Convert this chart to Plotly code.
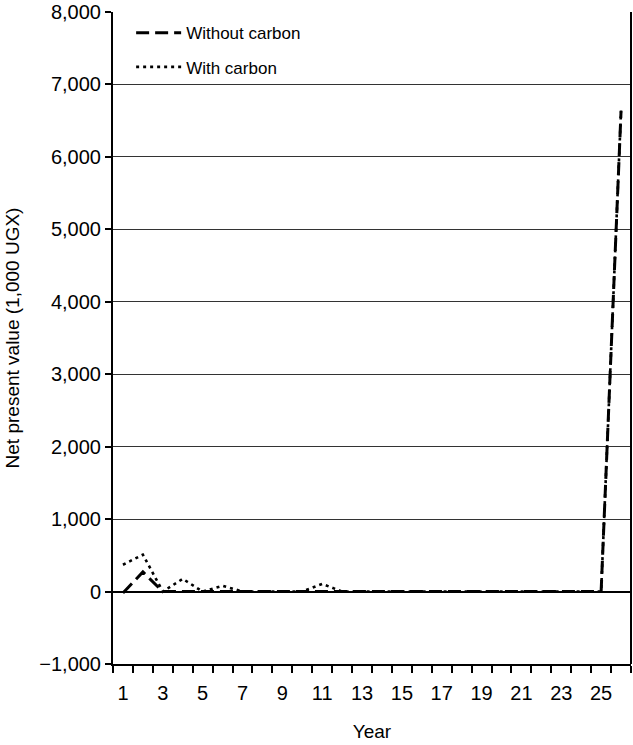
import plotly.graph_objects as go

# Net present value by year (1,000 UGX)
years = list(range(1, 27))
without_carbon = [-20, 270, 0, 0, 0, 0, 0, 0, 0, 0,
                  0, 0, 0, 0, 0, 0, 0, 0, 0, 0,
                  0, 0, 0, 0, 0, 6630]
with_carbon = [370, 510, 0, 175, 0, 80, 0, 0, 0, 0,
               105, 0, 0, 0, 0, 0, 0, 0, 0, 0,
               0, 0, 0, 0, 0, 6640]

x_labels = [str(y) for y in range(1, 26, 2)]
y_ticks = list(range(-1000, 8001, 1000))
y_labels = ["\u22121,000" if v < 0 else f"{v:,}" for v in y_ticks]

font_family = "Liberation Sans, Arial, Helvetica, sans-serif"

fig = go.Figure()

fig.add_trace(go.Scatter(
    x=years, y=without_carbon,
    mode='lines',
    name='Without carbon',
    legendgroup='a',
    line=dict(color='black', width=3, dash='13px,6px')
))

fig.add_trace(go.Scatter(
    x=years, y=with_carbon,
    mode='lines',
    name='With carbon',
    legendgroup='b',
    line=dict(color='black', width=2.6, dash='3px,4px')
))

fig.update_layout(
    width=633,
    height=745,
    margin=dict(l=113, r=2, t=12, b=81),
    paper_bgcolor='white',
    plot_bgcolor='white',
    font=dict(family=font_family, size=20, color='black'),
    showlegend=True,
    legend=dict(
        x=0.035, y=0.995,
        xanchor='left', yanchor='top',
        bgcolor='rgba(0,0,0,0)',
        font=dict(size=17),
        traceorder='grouped',
        tracegroupgap=9,
        itemwidth=45,
    ),
    xaxis=dict(
        range=[0.5, 26.5],
        automargin=False,
        tickmode='array',
        tickvals=list(range(1, 26, 2)),
        ticktext=x_labels,
        ticks='',
        ticklabelstandoff=10,
        showgrid=False,
        zeroline=False,
        showline=True,
        linecolor='black',
        linewidth=2,
        minor=dict(tick0=0.5, dtick=1, ticks='outside', ticklen=7,
                   tickcolor='black', tickwidth=2, showgrid=False),
        title=dict(text='Year', font=dict(size=19), standoff=22),
    ),
    yaxis=dict(
        range=[-1000, 8000],
        automargin=False,
        tickmode='array',
        tickvals=y_ticks,
        ticktext=y_labels,
        ticklabeloverflow='allow',
        ticks='outside',
        ticklen=6,
        tickwidth=1.5,
        tickcolor='black',
        showgrid=True,
        gridcolor='#333333',
        gridwidth=1,
        zeroline=True,
        zerolinecolor='black',
        zerolinewidth=1.5,
        showline=True,
        linecolor='black',
        linewidth=2,
        title=dict(text='Net present value (1,000 UGX)', font=dict(size=19), standoff=15),
    ),
)

# right-hand border of the plot frame
fig.add_shape(type='line', xref='paper', yref='paper', x0=1, x1=1, y0=0, y1=1,
              line=dict(color='black', width=2))

# drop the default 8px page margin so the figure sits at the window's corner
fig.write_html("out.html", config={'displayModeBar': False},
               post_script="document.body.style.margin='0';")
